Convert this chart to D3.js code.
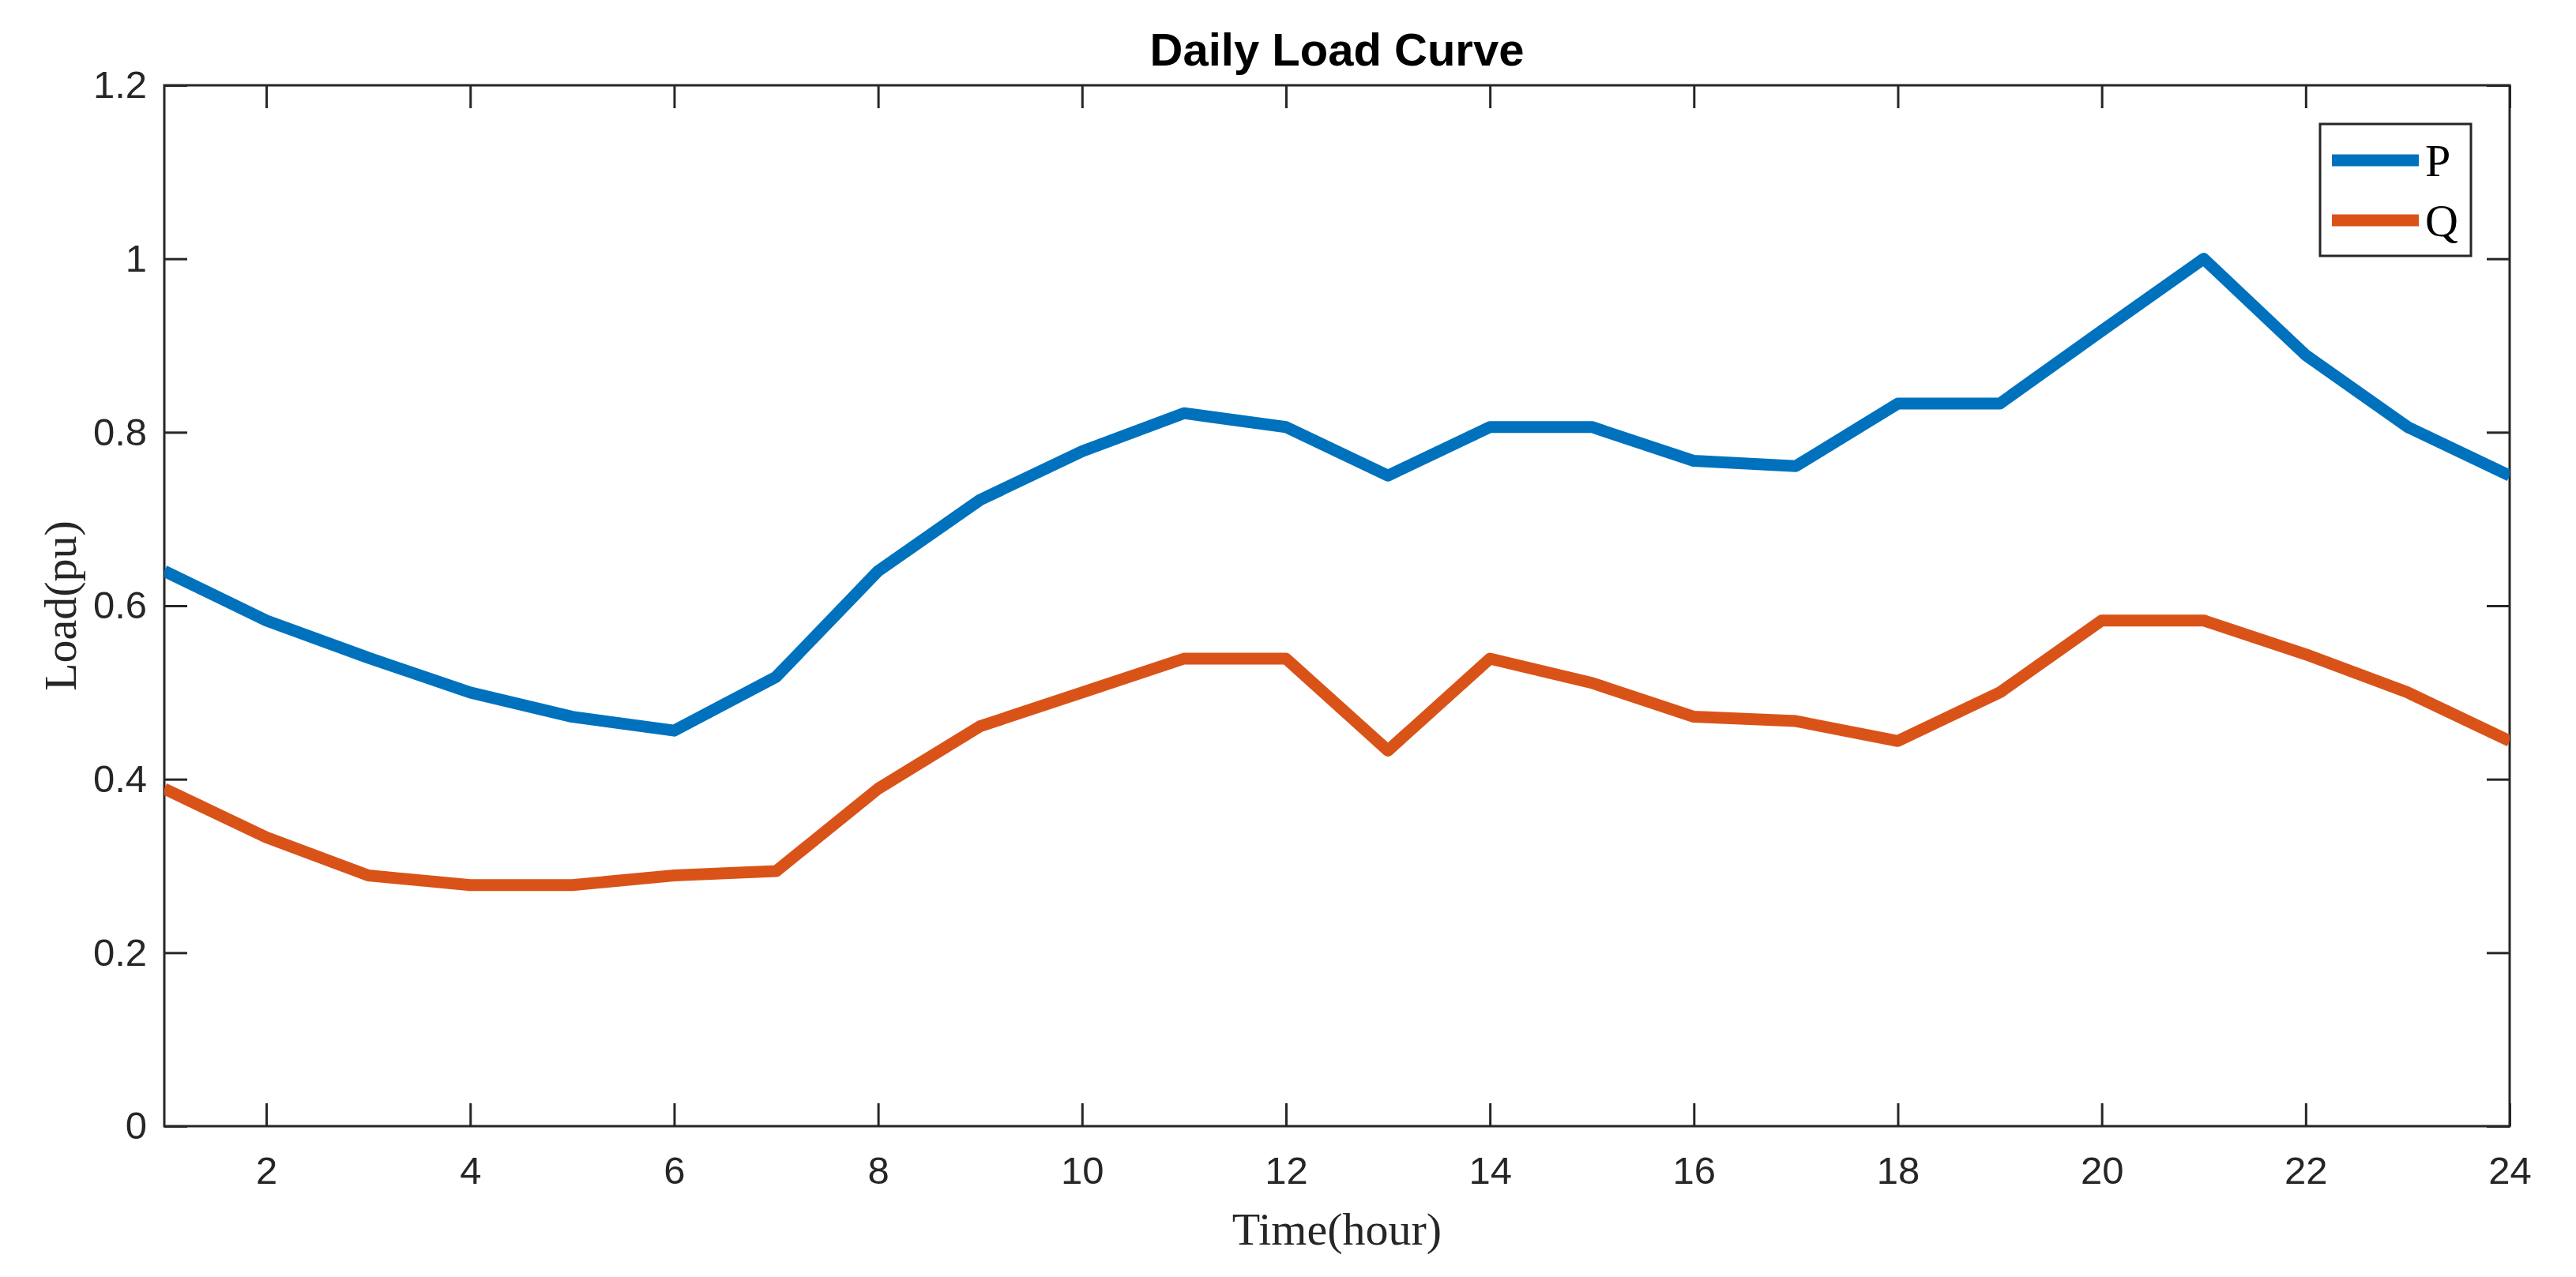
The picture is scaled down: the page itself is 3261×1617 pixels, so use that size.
<!DOCTYPE html>
<html>
<head>
<meta charset="utf-8">
<script src="https://cdn.jsdelivr.net/npm/d3@7"></script>
<style>
  body { margin: 0; background: #fff; }
  svg { display: block; }
</style>
</head>
<body>
<svg id="pic" width="3261" height="1617"></svg>
<script>
// hours and per-unit loads
var hours = [1,2,3,4,5,6,7,8,9,10,11,12,13,14,15,16,17,18,19,20,21,22,23,24];
var loadP = [0.64,0.583,0.54,0.50,0.472,0.456,0.518,0.64,0.722,0.778,0.822,0.806,
             0.75,0.806,0.806,0.767,0.761,0.833,0.833,0.917,1.0,0.889,0.806,0.75];
var loadQ = [0.389,0.333,0.289,0.278,0.278,0.289,0.294,0.389,0.461,0.50,0.539,0.539,
             0.433,0.539,0.511,0.472,0.467,0.444,0.50,0.583,0.583,0.544,0.50,0.444];
var xTicks = [2,4,6,8,10,12,14,16,18,20,22,24];
var yTicks = [0,0.2,0.4,0.6,0.8,1,1.2];
var seriesNames = ["P", "Q"];
var seriesColors = ["#0072BD", "#D95319"];

var svg = d3.select("#pic");
var pLeft = 208, pRight = 3177, pTop = 108, pBottom = 1426;
var axisColor = "#262626";

var x = d3.scaleLinear().domain([1, 24]).range([pLeft, pRight]);
var y = d3.scaleLinear().domain([0, 1.2]).range([pBottom, pTop]);

function styleAxis(g, fontFamily) {
  g.select(".domain").remove();
  g.selectAll(".tick line").attr("stroke", axisColor).attr("stroke-width", 3);
  g.selectAll(".tick text").attr("fill", axisColor)
    .style("font-family", fontFamily).style("font-size", "49px");
}

// bottom & left axes with labels, ticks pointing in
svg.append("g").attr("transform", "translate(0," + pBottom + ")")
  .call(d3.axisBottom(x).tickValues(xTicks).tickFormat(d3.format("d"))
        .tickSizeInner(-29).tickSizeOuter(0).tickPadding(38))
  .call(styleAxis, "'Liberation Sans', Arial, sans-serif");

svg.append("g").attr("transform", "translate(" + pLeft + ",0)")
  .call(d3.axisLeft(y).tickValues(yTicks).tickFormat(function(d){ return String(+d.toFixed(1)); })
        .tickSizeInner(-29).tickSizeOuter(0).tickPadding(22))
  .call(styleAxis, "'Liberation Sans', Arial, sans-serif");

// mirrored top & right ticks
svg.append("g").attr("transform", "translate(0," + pTop + ")")
  .call(d3.axisTop(x).tickValues(xTicks).tickFormat("").tickSizeInner(-29).tickSizeOuter(0))
  .call(styleAxis, "sans-serif");
svg.append("g").attr("transform", "translate(" + pRight + ",0)")
  .call(d3.axisRight(y).tickValues(yTicks).tickFormat("").tickSizeInner(-29).tickSizeOuter(0))
  .call(styleAxis, "sans-serif");

// box
svg.append("rect")
  .attr("x", pLeft).attr("y", pTop)
  .attr("width", pRight - pLeft).attr("height", pBottom - pTop)
  .attr("fill", "none").attr("stroke", axisColor).attr("stroke-width", 3);

// lines
var line = d3.line()
  .x(function(d, i){ return x(hours[i]); })
  .y(function(d){ return y(d); });

svg.append("clipPath").attr("id", "plotclip")
  .append("rect").attr("x", pLeft).attr("y", pTop)
  .attr("width", pRight - pLeft).attr("height", pBottom - pTop);

[loadP, loadQ].forEach(function(s, k){
  svg.append("path")
    .datum(s)
    .attr("d", line)
    .attr("clip-path", "url(#plotclip)")
    .attr("fill", "none")
    .attr("stroke", seriesColors[k])
    .attr("stroke-width", 15)
    .attr("stroke-linejoin", "round");
});

// title
svg.append("text")
  .attr("x", (pLeft + pRight) / 2).attr("y", 83)
  .attr("text-anchor", "middle")
  .style("font-family", "'Liberation Sans', Arial, sans-serif")
  .style("font-size", "58px").style("font-weight", "bold")
  .attr("fill", "#000")
  .text("Daily Load Curve");

// axis labels
svg.append("text")
  .attr("x", (pLeft + pRight) / 2).attr("y", 1576)
  .attr("text-anchor", "middle")
  .style("font-family", "'Liberation Serif', 'Times New Roman', serif")
  .style("font-size", "58px")
  .attr("fill", axisColor)
  .text("Time(hour)");

svg.append("text")
  .attr("transform", "translate(96," + ((pTop + pBottom) / 2) + ") rotate(-90)")
  .attr("text-anchor", "middle")
  .style("font-family", "'Liberation Serif', 'Times New Roman', serif")
  .style("font-size", "58px")
  .attr("fill", axisColor)
  .text("Load(pu)");

// legend
var lg = svg.append("g");
lg.append("rect")
  .attr("x", 2937).attr("y", 157).attr("width", 191).attr("height", 167)
  .attr("fill", "#fff").attr("stroke", axisColor).attr("stroke-width", 3);
seriesNames.forEach(function(name, k){
  var ly = 203 + k * 76;
  lg.append("line")
    .attr("x1", 2952).attr("x2", 3062).attr("y1", ly).attr("y2", ly)
    .attr("stroke", seriesColors[k]).attr("stroke-width", 15);
  lg.append("text")
    .attr("x", 3070).attr("y", ly + 20)
    .style("font-family", "'Liberation Serif', 'Times New Roman', serif")
    .style("font-size", "58px")
    .attr("fill", "#000")
    .text(name);
});
</script>
</body>
</html>
